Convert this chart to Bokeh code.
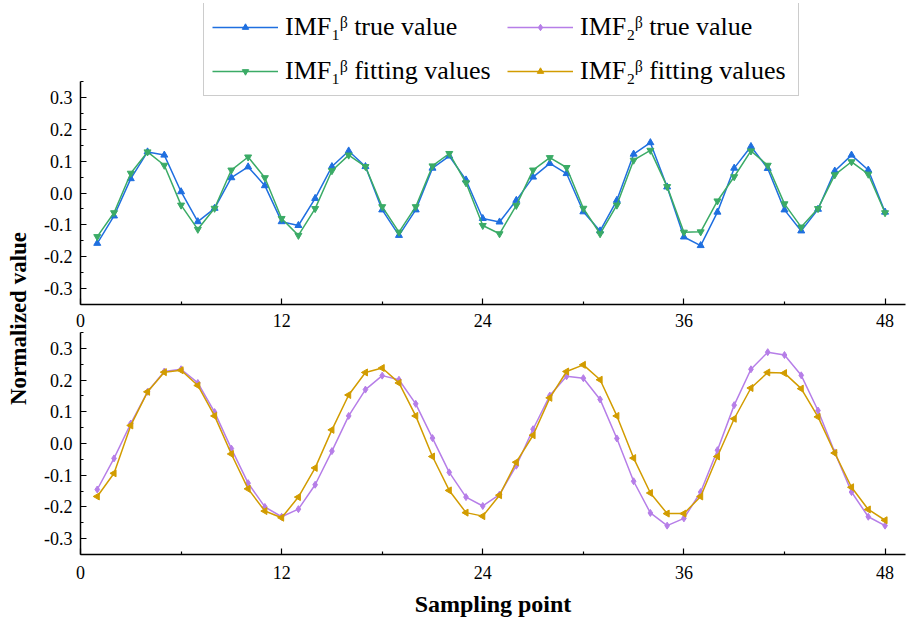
import numpy as np
from bokeh.plotting import figure
from bokeh.models import (ColumnDataSource, FixedTicker, PrintfTickFormatter,
                          Range1d, Legend, LegendItem)
from bokeh.layouts import row, column
from bokeh.embed import file_html
from bokeh.resources import INLINE
from bokeh.core.properties import value

# ---------------- data ----------------
sampling_points = list(range(1, 49))

imf1_true = [-0.158, -0.072, 0.045, 0.129, 0.119, 0.004, -0.090, -0.048, 0.048, 0.082, 0.023, -0.090,
             -0.102, -0.017, 0.083, 0.132, 0.083, -0.053, -0.133, -0.053, 0.078, 0.116, 0.041, -0.080,
             -0.091, -0.023, 0.050, 0.093, 0.061, -0.059, -0.119, -0.023, 0.122, 0.158, 0.019, -0.138,
             -0.165, -0.060, 0.078, 0.146, 0.077, -0.053, -0.119, -0.051, 0.069, 0.119, 0.072, -0.060]

imf1_fit = [-0.137, -0.062, 0.062, 0.129, 0.087, -0.038, -0.114, -0.048, 0.072, 0.113, 0.048, -0.080,
            -0.133, -0.049, 0.070, 0.119, 0.083, -0.043, -0.123, -0.043, 0.085, 0.124, 0.032, -0.102,
            -0.128, -0.039, 0.072, 0.111, 0.080, -0.048, -0.128, -0.038, 0.103, 0.134, 0.020, -0.123,
            -0.122, -0.025, 0.051, 0.132, 0.087, -0.034, -0.107, -0.049, 0.057, 0.098, 0.059, -0.062]

imf2_true = [-0.145, -0.047, 0.063, 0.163, 0.227, 0.234, 0.191, 0.099, -0.016, -0.125, -0.200, -0.231,
             -0.207, -0.130, -0.024, 0.087, 0.170, 0.214, 0.201, 0.125, 0.017, -0.091, -0.169, -0.197,
             -0.161, -0.070, 0.045, 0.151, 0.212, 0.206, 0.139, 0.016, -0.119, -0.219, -0.259, -0.236,
             -0.153, -0.021, 0.121, 0.234, 0.288, 0.279, 0.215, 0.104, -0.028, -0.153, -0.231, -0.259]

imf2_fit = [-0.167, -0.094, 0.057, 0.163, 0.225, 0.231, 0.183, 0.087, -0.033, -0.143, -0.213, -0.234,
            -0.169, -0.077, 0.043, 0.153, 0.224, 0.238, 0.191, 0.087, -0.041, -0.148, -0.218, -0.229,
            -0.163, -0.059, 0.026, 0.144, 0.227, 0.248, 0.201, 0.087, -0.046, -0.156, -0.221, -0.221,
            -0.167, -0.041, 0.078, 0.175, 0.224, 0.222, 0.173, 0.084, -0.030, -0.138, -0.208, -0.242]

x_ticks = [0, 12, 24, 36, 48]
x_minor_ticks = [6, 18, 30, 42]
y_ticks = [-0.3, -0.2, -0.1, 0.0, 0.1, 0.2, 0.3]
y_minor_ticks = [-0.35, -0.25, -0.15, -0.05, 0.05, 0.15, 0.25, 0.35]

legend_labels = ["IMF\u2081\u1d5d true value", "IMF\u2082\u1d5d true value",
                 "IMF\u2081\u1d5d fitting values", "IMF\u2082\u1d5d fitting values"]
x_title = "Sampling point"
y_title = "Normalized value"

C_BLUE = "#1f6fe0"
C_GREEN = "#3bab66"
C_PURPLE = "#b67ee8"
C_GOLD = "#d29c00"
FONT = "Liberation Serif"
LEFT_ANGLE = np.pi / 2      # rotates the triangle marker so it points left

FRAME_W = 825
PX_PER_UNIT_Y = 318.57      # top panel vertical scale
HEADROOM_PX = 78            # space above the top panel's axis, used by the legend


def make_fig(frame_h, y_end, mb_top, mb_bottom):
    p = figure(frame_width=FRAME_W, frame_height=frame_h,
               x_range=Range1d(0, 49.22), y_range=Range1d(-0.35, y_end),
               toolbar_location=None, output_backend="svg",
               min_border_left=42, min_border_right=5, min_border_top=mb_top, min_border_bottom=mb_bottom)
    p.outline_line_color = None
    p.grid.visible = False
    p.background_fill_color = "white"
    p.border_fill_color = "white"
    p.xaxis.ticker = FixedTicker(ticks=x_ticks, minor_ticks=x_minor_ticks)
    p.yaxis.ticker = FixedTicker(ticks=y_ticks, minor_ticks=y_minor_ticks)
    p.yaxis.formatter = PrintfTickFormatter(format="%.1f")
    p.yaxis.bounds = (-0.35, 0.35)
    for ax in p.axis:
        ax.axis_line_color = "black"
        ax.axis_line_width = 1.5
        ax.major_tick_in = 6
        ax.major_tick_out = 0
        ax.minor_tick_in = 3
        ax.minor_tick_out = 0
        ax.major_tick_line_color = "black"
        ax.minor_tick_line_color = "black"
        ax.major_tick_line_width = 1.2
        ax.minor_tick_line_width = 1.2
        ax.major_label_text_font = FONT
        ax.major_label_text_font_size = "18px"
        ax.major_label_text_color = "black"
    p.yaxis.major_label_standoff = 8
    p.xaxis.major_label_standoff = 9
    return p


def draw(p, src, color, marker, angle_field=None):
    r_line = p.line("x", "y", source=src, line_color=color, line_width=1.5)
    kw = dict(angle=angle_field) if angle_field else {}
    r_mark = p.scatter("x", "y", source=src, marker=marker, size=7,
                       fill_color=color, line_color=color, **kw)
    return [r_line, r_mark]


# ---------------- top panel ----------------
top = make_fig(223 + HEADROOM_PX, 0.35 + HEADROOM_PX / PX_PER_UNIT_Y, 3, 28)
src_1t = ColumnDataSource(dict(x=sampling_points, y=imf1_true))
src_1f = ColumnDataSource(dict(x=sampling_points, y=imf1_fit))
r1t = draw(top, src_1t, C_BLUE, "triangle")
r1f = draw(top, src_1f, C_GREEN, "inverted_triangle")
# legend proxies for the lower-panel series (a single undefined point: nothing is drawn)
proxy_a = ColumnDataSource(dict(x=[float("nan")], y=[float("nan")]))
proxy_b = ColumnDataSource(dict(x=[float("nan")], y=[float("nan")], ang=[LEFT_ANGLE]))
r2t_proxy = draw(top, proxy_a, C_PURPLE, "diamond")
r2f_proxy = draw(top, proxy_b, C_GOLD, "triangle", angle_field="ang")

# column-major order: column 1 = IMF1 items, column 2 = IMF2 items
legend = Legend(items=[
    LegendItem(label=legend_labels[0], renderers=r1t),
    LegendItem(label=legend_labels[2], renderers=r1f),
    LegendItem(label=legend_labels[1], renderers=r2t_proxy),
    LegendItem(label=legend_labels[3], renderers=r2f_proxy),
], location=(123, 208), ncols=2)
legend.label_text_font = FONT
legend.label_text_font_size = "26px"
legend.label_text_color = "black"
legend.glyph_width = 66
legend.glyph_height = 16
legend.label_height = 32
legend.label_width = 210
legend.label_standoff = 7
legend.padding = 8
legend.spacing = 12
legend.margin = 0
legend.border_line_color = "#9a9a9a"
legend.border_line_width = 1
legend.background_fill_color = "white"
legend.background_fill_alpha = 1.0
top.add_layout(legend)

# ---------------- bottom panel ----------------
bottom = make_fig(222, 0.35, 0, 60)
src_2t = ColumnDataSource(dict(x=sampling_points, y=imf2_true))
src_2f = ColumnDataSource(dict(x=sampling_points, y=imf2_fit, ang=[LEFT_ANGLE] * len(sampling_points)))
draw(bottom, src_2t, C_PURPLE, "diamond")
draw(bottom, src_2f, C_GOLD, "triangle", angle_field="ang")
bottom.xaxis.major_label_standoff = 11
bottom.xaxis.axis_label = x_title
bottom.xaxis.axis_label_text_font = FONT
bottom.xaxis.axis_label_text_font_style = "bold"
bottom.xaxis.axis_label_text_font_size = "24px"
bottom.xaxis.axis_label_text_color = "black"
bottom.xaxis.axis_label_standoff = 9

# ---------------- shared y title ----------------
lab = figure(width=38, height=630, x_range=Range1d(0, 38), y_range=Range1d(0, 630),
             toolbar_location=None, output_backend="svg", x_axis_type=None, y_axis_type=None,
             min_border=0)
lab.outline_line_color = None
lab.grid.visible = False
lab.text(x=[18], y=[312], text=[y_title], angle=np.pi / 2, text_align="center",
         text_baseline="middle", text_font=value(FONT), text_font_style="bold",
         text_font_size="23px", text_color="black")

layout = row(lab, column(top, bottom))

with open("out.html", "w") as f:
    f.write(file_html(layout, INLINE))
